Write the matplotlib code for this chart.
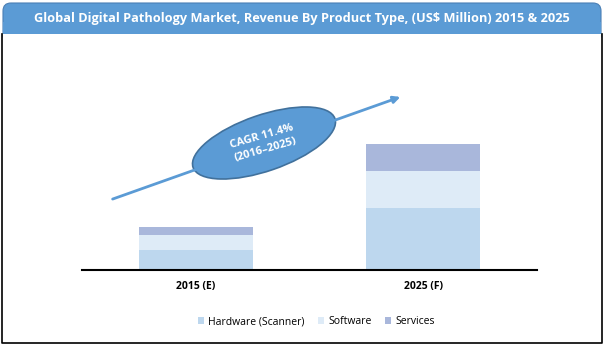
import matplotlib.pyplot as plt
from matplotlib.patches import Ellipse, FancyBboxPatch, Rectangle

# Revenue by product type (US$ million)
years = ['2015 (E)', '2025 (F)']
hardware = [200, 620]
software = [150, 370]
services = [80, 270]

segments = ['Hardware (Scanner)', 'Software', 'Services']
colors = ['#bdd7ee', '#deebf7', '#a9b7db']
band_blue = '#5b9bd5'

plt.rcParams['font.family'] = ['Open Sans', 'DejaVu Sans']

fig = plt.figure(figsize=(6.04, 3.47), dpi=100, facecolor='white')

# overlay in pixel coordinates for the frame, title band and CAGR badge
deco = fig.add_axes([0, 0, 1, 1], zorder=0)
deco.set_xlim(0, 604)
deco.set_ylim(347, 0)
deco.axis('off')

band = FancyBboxPatch((3, 3), 598, 40, boxstyle='round,pad=0,rounding_size=8',
                      facecolor=band_blue, edgecolor='#4a7fb5', linewidth=0.8)
deco.add_patch(band)
deco.add_patch(Rectangle((2.6, 22), 598.8, 24, facecolor='white', edgecolor='none'))
deco.add_patch(Rectangle((3, 22), 598, 12, facecolor=band_blue, edgecolor='none'))
deco.plot([2, 2, 602, 602], [34, 343, 343, 34], color='black', linewidth=1.2)
deco.text(302, 18.5, 'Global Digital Pathology Market, Revenue By Product Type, (US$ Million) 2015 & 2025',
          color='white', fontsize=9.2, fontweight='bold', ha='center', va='center')

ax = fig.add_axes([82 / 604, 77 / 347, 455 / 604, 230 / 347], zorder=1)
ax.patch.set_alpha(0)
x = range(len(years))
bottom = [0, 0]
for vals, name, c in zip([hardware, software, services], segments, colors):
    ax.bar(x, vals, width=0.5, bottom=bottom, color=c, label=name)
    bottom = [b + v for b, v in zip(bottom, vals)]

ax.set_xlim(-0.5, 1.5)
ax.set_ylim(0, 2300)
ax.set_yticks([])
ax.set_xticks(list(x))
ax.set_xticklabels(years, fontsize=7.5, fontweight='bold')
ax.tick_params(axis='x', length=0, pad=8)
for side in ['top', 'right', 'left']:
    ax.spines[side].set_visible(False)
ax.spines['bottom'].set_linewidth(1.5)

leg = ax.legend(loc='upper center', bbox_to_anchor=(0.515, -0.16), ncol=3, frameon=False,
                fontsize=7.5, handlelength=0.6, handleheight=0.6, handletextpad=0.4,
                columnspacing=1.3)

# growth arrow with CAGR badge
top = fig.add_axes([0, 0, 1, 1], zorder=2)
top.set_xlim(0, 604)
top.set_ylim(347, 0)
top.axis('off')
top.annotate('', xy=(403, 96), xytext=(110, 200),
             arrowprops=dict(arrowstyle='-|>', color=band_blue, lw=2, mutation_scale=10))
top.add_patch(Ellipse((264, 143), 150, 56, angle=-19, facecolor=band_blue,
                      edgecolor='#41719c', linewidth=1.2))
top.text(264, 143, 'CAGR 11.4%\n(2016\u20132025)', color='white', fontsize=8,
         fontweight='bold', ha='center', va='center', rotation=16, linespacing=1.4)

fig.savefig('out.png', dpi=100, facecolor='white')
